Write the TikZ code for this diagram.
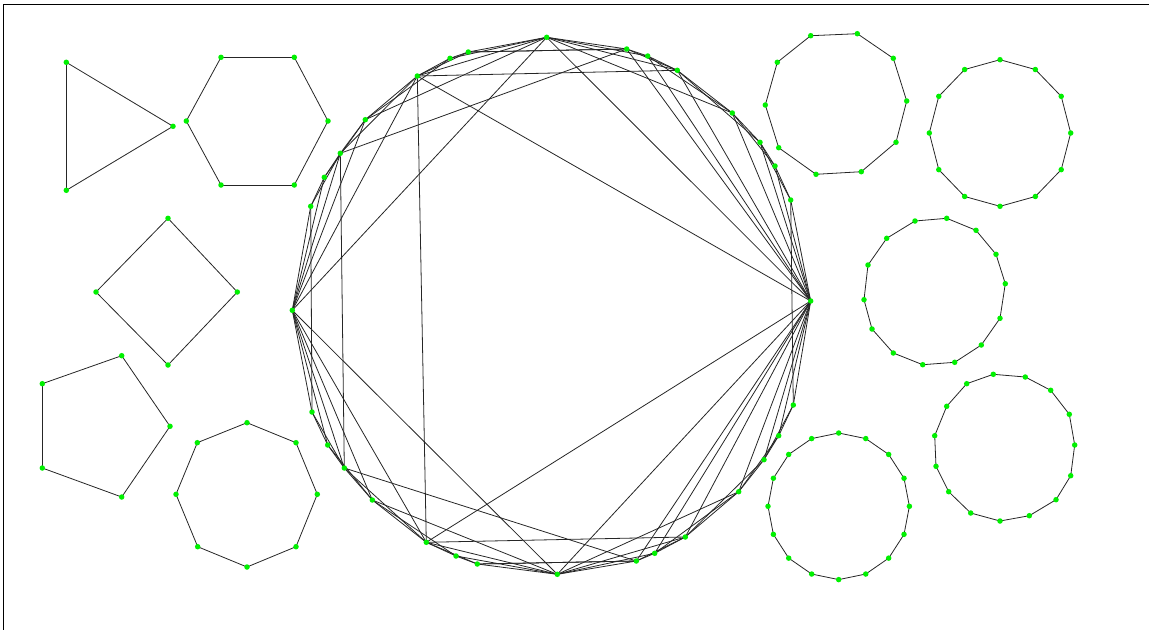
\documentclass[tikz,border=0pt]{standalone}
\definecolor{dotgreen}{RGB}{0,240,0}
\newcommand{\polyg}[2]{\foreach \px/\py [count=\k] in {#2} {\coordinate (#1-\k) at (\px,\py);}}
\begin{document}
\begin{tikzpicture}[x=1pt,y=-1pt,
  edge/.style={draw=black!85,line width=0.8pt},
  dot/.style={circle,fill=dotgreen,draw=none,inner sep=0pt,minimum size=5.5pt}]
\useasboundingbox (0,0) rectangle (1149,630);
% frame
\coordinate (f1) at (1149,4);
\coordinate (f2) at (3.3,4);
\coordinate (f3) at (3.3,630);
\draw[line width=1pt] (f1) -- (f2) -- (f3);
% small polygons
\polyg{tri}{66.3/62.3,173/126.3,66.3/190.3}
\polyg{hex}{221/57.3,294.3/57.3,328/121,294.3/185,221/185,186.3/121}
\polyg{sq}{168/218.3,237.3/292,168/365,96/292}
\polyg{pen}{121.7/355.7,170/426.3,121.7/497,42.3/468,42.3/383.7}
\polyg{oct}{247/422.7,296/442.7,317.3/494.3,296/546.7,247/567,197.7/546.7,176/494.3,197.3/442.7}
\polyg{dec}{810.7/35.7,857.3/33.7,893.3/58.3,906.7/101,896/142.3,861.3/171.7,816/174.3,778.7/147.7,765.3/105,777.3/62.3}
\polyg{fif}{993.3/374.3,1025.3/377,1050.7/390.3,1069.3/414.3,1074.7/445,1070.7/475.7,1056/499.7,1029.3/515.7,1000/521,970.7/513,948.7/491.7,936/466.3,934.7/435.7,946.7/406.3,966.7/383.7}
\polyg{ftn}{915/221,946.7/218.3,976/230.3,996/254.3,1005.3/283.7,1000/318.3,981.3/345,954.7/362.3,922.7/364.7,893.3/353,872/329,864/299.7,868/265,886.7/238.3}
\foreach \k in {1,...,12} {\coordinate (twv-\k) at ({1000+70.7*cos(90-30*(\k-1))},{133-73.3*sin(90-30*(\k-1))});}
\foreach \k in {1,...,16} {\coordinate (sxt-\k) at ({838.7+70.7*cos(90-22.5*(\k-1))},{506.3-73.3*sin(90-22.5*(\k-1))});}
\foreach \nm/\n in {tri/3,hex/6,sq/4,pen/5,oct/8,dec/10,twv/12,ftn/14,fif/15,sxt/16} {
  \foreach \k [evaluate=\k as \j using {int(mod(\k,\n)+1)}] in {1,...,\n} {\draw[edge] (\nm-\k) -- (\nm-\j);}
}
% central graph: vertex i is c-(i+1)
\polyg{c}{546.7/37.3,626.7/49,647.7/56,677.3/70.3,732.3/113,760/142.3,775/166,790.7/200,810.7/301,793.3/405,778.7/435.7,764/459.7,738.7/491.7,685.3/537,654.7/553.3,636.3/561,557.3/574.3,477.3/564,456/556,426.3/542.3,372.3/500,344.3/468,327.7/445,312/412,292.3/310.3,310.7/206.3,324.3/177.3,340.3/153.3,365.3/119.7,417.3/76,450/58.3,468.3/52}
\foreach \k [evaluate=\k as \j using {int(mod(\k,32)+1)}, evaluate=\k as \m using {int(mod(\k+1,32)+1)}] in {1,...,32} {
  \draw[edge] (c-\k) -- (c-\j);
  \draw[edge] (c-\k) -- (c-\m);
}
\foreach \a/\b in {0/3,0/4,0/8,0/24,0/28,0/29,8/1,8/2,8/3,8/4,8/5,8/29,24/27,24/28,24/29,29/3,31/1,29/19,27/21,27/1,
  16/13,16/12,16/8,16/24,16/20,16/19,8/15,8/14,8/13,8/12,8/11,8/19,24/21,24/20,24/19,19/13,17/15,21/15} {
  \pgfmathtruncatemacro{\aa}{\a+1}\pgfmathtruncatemacro{\bb}{\b+1}
  \draw[edge] (c-\aa) -- (c-\bb);
}
% dots
\foreach \nm/\n in {tri/3,hex/6,sq/4,pen/5,oct/8,dec/10,twv/12,ftn/14,fif/15,sxt/16,c/32} {
  \foreach \k in {1,...,\n} {\node[dot] (d\nm-\k) at (\nm-\k) {};}
}
\end{tikzpicture}
\end{document}
